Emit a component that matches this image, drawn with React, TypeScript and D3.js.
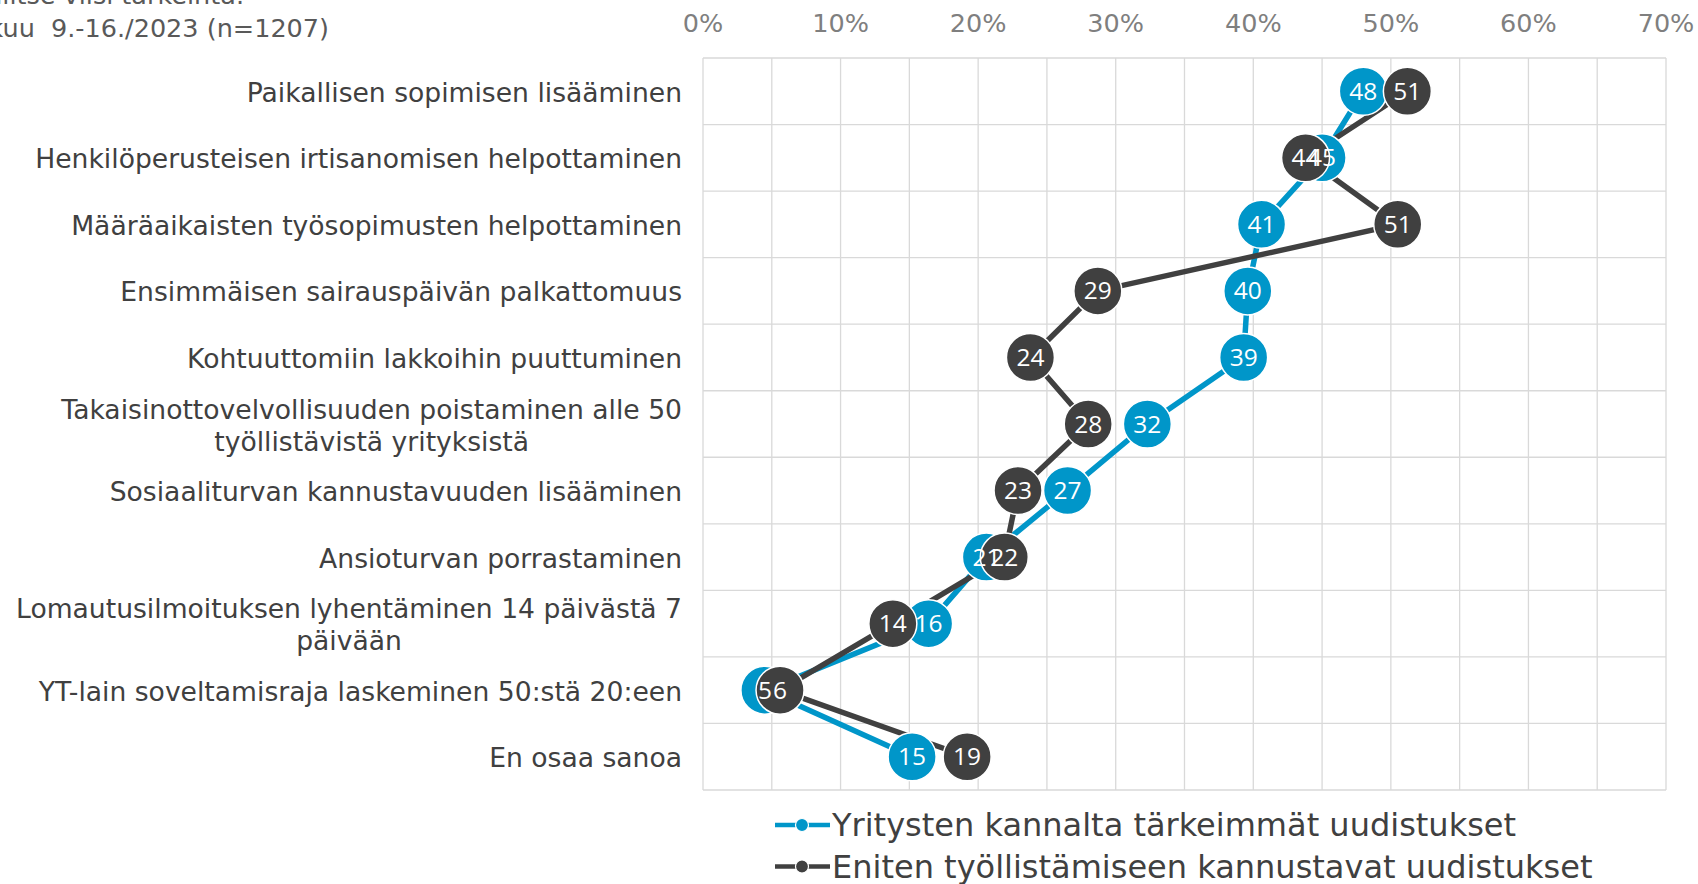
import React, { useEffect, useRef } from "react";
import * as d3 from "d3";

const categories: string[][] = [
  ["Paikallisen sopimisen lisääminen"],
  ["Henkilöperusteisen irtisanomisen helpottaminen"],
  ["Määräaikaisten työsopimusten helpottaminen"],
  ["Ensimmäisen sairauspäivän palkattomuus"],
  ["Kohtuuttomiin lakkoihin puuttuminen"],
  ["Takaisinottovelvollisuuden poistaminen alle 50", "työllistävistä yrityksistä"],
  ["Sosiaaliturvan kannustavuuden lisääminen"],
  ["Ansioturvan porrastaminen"],
  ["Lomautusilmoituksen lyhentäminen 14 päivästä 7", "päivään"],
  ["YT-lain soveltamisraja laskeminen 50:stä 20:een"],
  ["En osaa sanoa"],
];

const seriesNames = [
  "Yritysten kannalta tärkeimmät uudistukset",
  "Eniten työllistämiseen kannustavat uudistukset",
];

const companyValues = [48, 45, 40.6, 39.6, 39.3, 32.3, 26.5, 20.6, 16.4, 4.5, 15.2];
const employmentValues = [51.2, 43.8, 50.5, 28.7, 23.8, 28.0, 22.9, 21.9, 13.8, 5.6, 19.2];

const xTicks = [0, 10, 20, 30, 40, 50, 60, 70];
const titleLines = ["Valitse viisi tärkeintä.", "elokuu\u00a0 9.-16./2023 (n=1207)"];

const W = 1698;
const H = 884;
const BLUE = "#0096c9";
const DARK = "#404040";
const TEXT = "#404040";
const GRID = "#d9d9d9";

export default function App() {
  const ref = useRef<SVGSVGElement | null>(null);

  useEffect(() => {
    document.body.style.margin = "0";
    const svg = d3.select(ref.current);
    svg.selectAll("*").remove();

    const x = d3.scaleLinear().domain([0, 70]).range([703, 1666]);
    const idx = categories.map((_, i) => String(i));
    const y = d3.scaleBand().domain(idx).range([58, 790]).padding(0);
    const cy = (i: number) => (y(String(i)) as number) + y.bandwidth() / 2;

    const font = "'DejaVu Sans', Verdana, sans-serif";

    // title (partially cut)
    svg
      .append("text")
      .attr("x", 244)
      .attr("y", 4)
      .attr("text-anchor", "end")
      .attr("font-family", font)
      .attr("font-size", 25.5)
      .attr("fill", "#595959")
      .text(titleLines[0]);
    svg
      .append("text")
      .attr("x", 329)
      .attr("y", 37)
      .attr("text-anchor", "end")
      .attr("font-family", font)
      .attr("font-size", 25.5)
      .attr("fill", "#595959")
      .text(titleLines[1]);

    // grid
    const g = svg.append("g");
    g.selectAll("line.v")
      .data(d3.range(0, 71, 5))
      .join("line")
      .attr("x1", (d) => x(d))
      .attr("x2", (d) => x(d))
      .attr("y1", 58)
      .attr("y2", 790)
      .attr("stroke", GRID)
      .attr("stroke-width", 1.3);
    const hs = idx.map((d) => y(d) as number).concat([790]);
    g.selectAll("line.h")
      .data(hs)
      .join("line")
      .attr("x1", 703)
      .attr("x2", 1666)
      .attr("y1", (d) => d)
      .attr("y2", (d) => d)
      .attr("stroke", GRID)
      .attr("stroke-width", 1.3);

    // x tick labels
    svg
      .append("g")
      .selectAll("text")
      .data(xTicks)
      .join("text")
      .attr("x", (d) => x(d))
      .attr("y", 32)
      .attr("text-anchor", "middle")
      .attr("font-family", font)
      .attr("font-size", 25.5)
      .attr("fill", "#7f7f7f")
      .text((d) => `${d}%`);

    // category labels
    const catG = svg.append("g");
    categories.forEach((lines, i) => {
      const t = catG
        .append("text")
        .attr("font-family", font)
        .attr("font-size", 26.6)
        .attr("fill", TEXT);
      const spans = lines.map((l) => t.append("tspan").text(l));
      const widths = spans.map((s) => (s.node() as SVGTSpanElement).getComputedTextLength());
      const maxW = Math.max(...widths);
      const right = 682;
      const center = cy(i);
      const lh = 32;
      const top = center - ((lines.length - 1) * lh) / 2;
      spans.forEach((s, j) => {
        s.attr("x", lines.length > 1 ? right - maxW / 2 : right)
          .attr("text-anchor", lines.length > 1 ? "middle" : "end")
          .attr("y", top + j * lh + 10.5);
      });
    });

    const series = [
      { name: seriesNames[0], values: companyValues, color: BLUE },
      { name: seriesNames[1], values: employmentValues, color: DARK },
    ];

    const line = d3
      .line<number>()
      .x((d) => x(d))
      .y((_, i) => cy(i));

    series.forEach((s) => {
      svg
        .append("path")
        .attr("d", line(s.values) as string)
        .attr("fill", "none")
        .attr("stroke", s.color)
        .attr("stroke-width", 5.5);
    });
    series.forEach((s) => {
      svg
        .append("g")
        .selectAll("circle")
        .data(s.values)
        .join("circle")
        .attr("cx", (d) => x(d))
        .attr("cy", (_, i) => cy(i))
        .attr("r", 24)
        .attr("fill", s.color)
        .attr("stroke", "#ffffff")
        .attr("stroke-width", 1.5);
    });
    series.forEach((s) => {
      svg
        .append("g")
        .selectAll("text")
        .data(s.values)
        .join("text")
        .attr("x", (d) => x(d))
        .attr("y", (_, i) => cy(i) + 8.5)
        .attr("text-anchor", "middle")
        .attr("font-family", "'Open Sans', sans-serif")
        .attr("font-size", 24.5)
        .attr("fill", "#ffffff")
        .text((d) => String(Math.round(d)));
    });

    // legend
    const lg = svg.append("g");
    series.forEach((s, i) => {
      const ly = 825 + i * 41.5;
      lg.append("line")
        .attr("x1", 775)
        .attr("x2", 830)
        .attr("y1", ly)
        .attr("y2", ly)
        .attr("stroke", s.color)
        .attr("stroke-width", 4.5);
      lg.append("circle")
        .attr("cx", 802)
        .attr("cy", ly)
        .attr("r", 6.5)
        .attr("fill", s.color)
        .attr("stroke", "#ffffff")
        .attr("stroke-width", 1.2);
      lg.append("text")
        .attr("x", 832)
        .attr("y", ly + 11)
        .attr("font-family", font)
        .attr("font-size", 32)
        .attr("fill", TEXT)
        .text(s.name);
    });
  }, []);

  return (
    <svg
      ref={ref}
      width={W}
      height={H}
      style={{ position: "absolute", left: 0, top: 0, background: "#fff" }}
    />
  );
}
